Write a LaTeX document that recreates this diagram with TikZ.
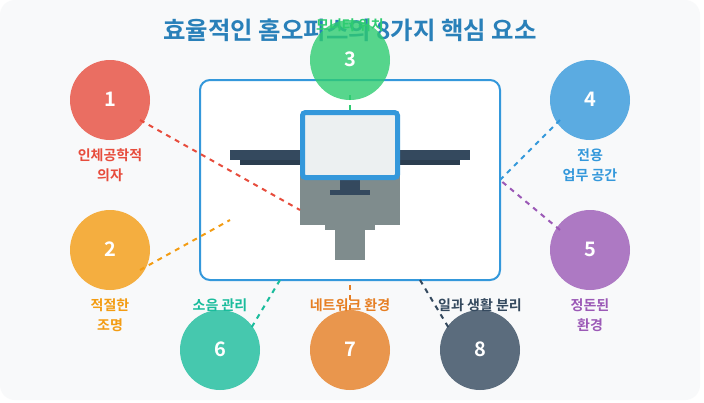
\documentclass[tikz,border=0pt]{standalone}
\usepackage{fontspec}
\setmainfont{Noto Sans CJK KR}[BoldFont={* Bold}]
\definecolor{cbg}{HTML}{F8F9FA}
\definecolor{cblue}{HTML}{3498DB}
\definecolor{ctitle}{HTML}{2980B9}
\definecolor{cnavy}{HTML}{34495E}
\definecolor{cdark}{HTML}{2C3E50}
\definecolor{cgrey}{HTML}{7F8C8D}
\definecolor{cscreen}{HTML}{ECF0F1}
\definecolor{cred}{HTML}{E74C3C}
\definecolor{corange}{HTML}{F39C12}
\definecolor{cgreen}{HTML}{2ECC71}
\definecolor{cpurple}{HTML}{9B59B6}
\definecolor{cteal}{HTML}{1ABC9C}
\definecolor{cdorange}{HTML}{E67E22}
\tikzset{
  x=1pt,y=-1pt,
  dot/.style={circle,fill=#1,fill opacity=.8,text opacity=1,draw=none,inner sep=0pt,minimum size=80pt,text=white,font=\fontsize{20}{20}\selectfont\bfseries},
  lab/.style={text=#1,align=center,inner sep=0pt,font=\fontsize{14}{20}\selectfont\bfseries},
  link/.style={draw=#1,line width=2pt,dash pattern=on 5pt off 5pt},
  flat/.style={fill=#1,draw=none},
}
\begin{document}
\begin{tikzpicture}
\useasboundingbox (0,0) rectangle (704,402);
\fill[white] (0,0) rectangle (704,402);
\fill[cbg,rounded corners=15pt] (0,0) rectangle (700,400);
\node[font=\fontsize{24.4}{24}\selectfont\bfseries,text=ctitle,inner sep=0pt] (title) at (350,30.5) {효율적인 홈오피스의 8가지 핵심 요소};
\node[draw=cblue,fill=white,line width=2pt,rounded corners=10pt,minimum width=300pt,minimum height=200pt,inner sep=0pt] (frame) at (350,180) {};
% desk
\fill[flat=cnavy] (230,150) rectangle (470,160);
\fill[flat=cdark] (240,160) rectangle (460,165);
% chair
\fill[flat=cgrey] (300,170) rectangle (400,225);
\fill[flat=cgrey] (325,225) rectangle (375,230);
\fill[flat=cgrey] (335,230) rectangle (365,260);
% monitor
\fill[flat=cnavy] (340,180) rectangle (360,190);
\fill[flat=cnavy] (330,190) rectangle (370,195);
\node[draw=cblue,fill=cscreen,line width=5pt,rounded corners=3pt,minimum width=95pt,minimum height=65pt,inner sep=0pt] (screen) at (350,145) {};
% connector ends
\coordinate (e1) at (300,210);
\coordinate (e2) at (230,220);
\coordinate (e3) at (350,110);
\coordinate (e4) at (500,180);
\coordinate (e5) at (500,180);
\coordinate (e6) at (280,280);
\coordinate (e7) at (350,285);
\coordinate (e8) at (420,280);
\coordinate (s1) at (140,120);
\coordinate (s2) at (140,270);
\coordinate (s3) at (350,95);
\coordinate (s4) at (560,120);
\coordinate (s5) at (560,230);
\coordinate (s6) at (250,330);
\coordinate (s7) at (350,310);
\coordinate (s8) at (450,330);
\draw[link=cred] (s1) -- (e1);
\draw[link=corange] (s2) -- (e2);
\draw[link=cgreen] (e3) -- (s3);
\draw[link=cblue] (s4) -- (e4);
\draw[link=cpurple] (s5) -- (e5);
\draw[link=cteal] (e6) -- (s6);
\draw[link=cdorange] (e7) -- (s7);
\draw[link=cnavy] (e8) -- (s8);
% circles
\node[dot=cred] (n1) at (110,100) {\raisebox{.8pt}{1}};
\node[dot=corange] (n2) at (110,250) {\raisebox{.8pt}{2}};
\node[dot=cgreen] (n3) at (350,60) {\raisebox{.8pt}{3}};
\node[dot=cblue] (n4) at (590,100) {\raisebox{.8pt}{4}};
\node[dot=cpurple] (n5) at (590,250) {\raisebox{.8pt}{5}};
\node[dot=cteal] (n6) at (220,350) {\raisebox{.8pt}{6}};
\node[dot=cdorange] (n7) at (350,350) {\raisebox{.8pt}{7}};
\node[dot=cnavy] (n8) at (480,350) {\raisebox{.8pt}{8}};
% labels
\node[lab=cred] (l1) at (110,165) {인체공학적\\의자};
\node[lab=corange] (l2) at (110,315) {적절한\\조명};
\node[lab=cgreen] (l3) at (350,25) {모니터 위치};
\node[lab=cblue] (l4) at (590,165) {전용\\업무 공간};
\node[lab=cpurple] (l5) at (590,315) {정돈된\\환경};
\node[lab=cteal] (l6) at (220,305) {소음 관리};
\node[lab=cdorange] (l7) at (350,305) {네트워크 환경};
\node[lab=cnavy] (l8) at (480,305) {일과 생활 분리};
\end{tikzpicture}
\end{document}
